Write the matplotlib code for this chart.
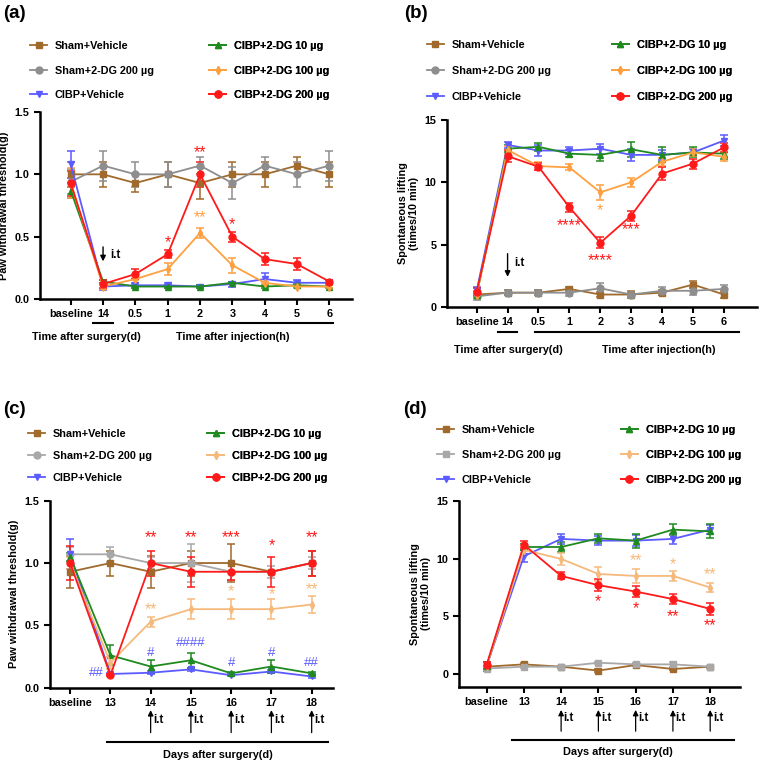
import matplotlib.pyplot as plt
import numpy as np

plt.rcParams['font.family'] = ['Liberation Sans', 'DejaVu Sans']
plt.rcParams['font.weight'] = 'bold'
plt.rcParams['axes.labelweight'] = 'bold'

W, H = 760, 764

groups = ['Sham+Vehicle', 'Sham+2-DG 200 µg', 'CIBP+Vehicle',
          'CIBP+2-DG 10 µg', 'CIBP+2-DG 100 µg', 'CIBP+2-DG 200 µg']

# ---- panel (a): paw withdrawal threshold, single injection
a_ticks = ['baseline', '14', '0.5', '1', '2', '3', '4', '5', '6']
a_sham_veh = [1.0, 1.0, 0.93, 1.0, 0.93, 1.0, 1.0, 1.07, 1.0]
a_sham_veh_e = [0.1, 0.1, 0.07, 0.1, 0.13, 0.1, 0.1, 0.07, 0.1]
a_sham_dg = [0.94, 1.07, 1.0, 1.0, 1.07, 0.93, 1.07, 1.0, 1.07]
a_sham_dg_e = [0.1, 0.12, 0.1, 0.1, 0.07, 0.13, 0.07, 0.1, 0.12]
a_cibp_veh = [1.08, 0.10, 0.11, 0.11, 0.10, 0.12, 0.16, 0.13, 0.13]
a_cibp_veh_e = [0.11, 0.03, 0.02, 0.02, 0.01, 0.02, 0.05, 0.02, 0.02]
a_dg10 = [0.87, 0.14, 0.10, 0.10, 0.10, 0.13, 0.10, 0.11, 0.10]
a_dg10_e = [0.06, 0.01, 0.01, 0.01, 0.01, 0.01, 0.01, 0.01, 0.01]
a_dg100 = [0.93, 0.10, 0.16, 0.24, 0.53, 0.27, 0.13, 0.10, 0.10]
a_dg100_e = [0.12, 0.02, 0.01, 0.05, 0.04, 0.06, 0.01, 0.01, 0.01]
a_dg200 = [0.93, 0.12, 0.20, 0.36, 1.0, 0.50, 0.32, 0.28, 0.14]
a_dg200_e = [0.1, 0.03, 0.04, 0.03, 0.1, 0.04, 0.05, 0.05, 0.01]

# ---- panel (b): spontaneous lifting, single injection
b_ticks = a_ticks
b_sham_veh = [1.0, 1.15, 1.15, 1.45, 1.0, 1.0, 1.15, 1.8, 1.0]
b_sham_veh_e = [0.3, 0.2, 0.2, 0.15, 0.2, 0.25, 0.2, 0.25, 0.25]
b_sham_dg = [0.85, 1.15, 1.15, 1.15, 1.5, 1.0, 1.3, 1.3, 1.45]
b_sham_dg_e = [0.3, 0.2, 0.2, 0.3, 0.4, 0.2, 0.3, 0.3, 0.35]
b_cibp_veh = [1.3, 13.0, 12.55, 12.55, 12.7, 12.2, 12.2, 12.4, 13.35]
b_cibp_veh_e = [0.3, 0.25, 0.45, 0.3, 0.4, 0.45, 0.4, 0.3, 0.45]
b_dg10 = [1.0, 12.7, 12.85, 12.3, 12.2, 12.65, 12.2, 12.4, 12.3]
b_dg10_e = [0.3, 0.3, 0.3, 0.3, 0.45, 0.6, 0.6, 0.4, 0.4]
b_dg100 = [1.0, 12.6, 11.3, 11.2, 9.2, 10.0, 11.65, 12.4, 12.05]
b_dg100_e = [0.3, 0.3, 0.35, 0.25, 0.6, 0.35, 0.3, 0.3, 0.3]
b_dg200 = [1.2, 12.1, 11.25, 8.0, 5.15, 7.33, 10.7, 11.5, 12.8]
b_dg200_e = [0.3, 0.5, 0.3, 0.35, 0.45, 0.4, 0.5, 0.4, 0.35]

# ---- panel (c): paw withdrawal threshold, repeated injection
c_ticks = ['baseline', '13', '14', '15', '16', '17', '18']
c_sham_veh = [0.93, 1.0, 0.93, 1.0, 1.0, 0.93, 1.0]
c_sham_veh_e = [0.13, 0.1, 0.13, 0.1, 0.15, 0.01, 0.1]
c_sham_dg = [1.07, 1.07, 1.0, 1.0, 0.93, 0.93, 1.0]
c_sham_dg_e = [0.06, 0.06, 0.05, 0.15, 0.07, 0.05, 0.05]
c_cibp_veh = [1.07, 0.11, 0.12, 0.147, 0.10, 0.13, 0.09]
c_cibp_veh_e = [0.12, 0.01, 0.01, 0.01, 0.01, 0.01, 0.01]
c_dg10 = [1.05, 0.26, 0.17, 0.22, 0.115, 0.17, 0.115]
c_dg10_e = [0.03, 0.08, 0.05, 0.06, 0.01, 0.05, 0.01]
c_dg100 = [1.0, 0.2, 0.53, 0.63, 0.63, 0.63, 0.667]
c_dg100_e = [0.05, 0.05, 0.04, 0.08, 0.08, 0.08, 0.07]
c_dg200 = [1.0, 0.10, 1.0, 0.93, 0.93, 0.93, 1.0]
c_dg200_e = [0.14, 0.01, 0.1, 0.12, 0.07, 0.12, 0.1]

# ---- panel (d): spontaneous lifting, repeated injection
d_ticks = c_ticks
d_sham_veh = [0.66, 0.86, 0.66, 0.32, 0.8, 0.46, 0.66]
d_sham_veh_e = [0.1, 0.1, 0.1, 0.1, 0.1, 0.1, 0.1]
d_sham_dg = [0.5, 0.66, 0.66, 1.0, 0.86, 0.86, 0.66]
d_sham_dg_e = [0.1, 0.15, 0.1, 0.1, 0.15, 0.2, 0.1]
d_cibp_veh = [0.7, 10.2, 11.7, 11.55, 11.55, 11.7, 12.5]
d_cibp_veh_e = [0.3, 0.5, 0.45, 0.4, 0.5, 0.4, 0.4]
d_dg10 = [0.7, 11.0, 11.0, 11.75, 11.55, 12.5, 12.35]
d_dg10_e = [0.4, 0.3, 0.4, 0.4, 0.6, 0.45, 0.6]
d_dg100 = [0.7, 10.75, 9.97, 8.67, 8.5, 8.5, 7.5]
d_dg100_e = [0.3, 0.4, 0.5, 0.6, 0.6, 0.4, 0.4]
d_dg200 = [0.8, 11.2, 8.5, 7.7, 7.15, 6.5, 5.65]
d_dg200_e = [0.3, 0.3, 0.3, 0.5, 0.45, 0.4, 0.5]

BROWN = '#A06A2C'
GRAY = '#8E8E8E'
BLUE = '#5B5BFF'
GREEN = '#1F8A1F'
ORANGE = '#FFA040'
LORANGE = '#F6B97C'
RED = '#FF1A1A'

FS = 7.8


def px_axes(left, top, right, bottom):
    return fig.add_axes([left / W, 1 - bottom / H, (right - left) / W, (bottom - top) / H])


def draw_panel(ax, ticks, means, errs, colors, markers, xlim, ylim, yticks, ylabel):
    x = np.arange(len(ticks))
    handles = []
    for m, e, c, mk, lab in zip(means, errs, colors, markers, groups):
        ms = 4.0 if mk == 'd' else 5.0
        h = ax.errorbar(x, m, yerr=e, color=c, marker=mk, ms=ms, lw=1.3,
                        elinewidth=1.1, capsize=3, capthick=1.1, label=lab,
                        clip_on=False)
        handles.append(h.lines[0])
    ax.set_xlim(*xlim)
    ax.set_ylim(*ylim)
    ax.set_xticks(x)
    ax.set_xticklabels(ticks, fontsize=FS, fontweight='bold')
    ax.set_yticks(yticks)
    ax.tick_params(axis='both', length=4, width=1.5, labelsize=FS)
    for lb in ax.get_yticklabels():
        lb.set_fontweight('bold')
    for s in ['top', 'right']:
        ax.spines[s].set_visible(False)
    for s in ['left', 'bottom']:
        ax.spines[s].set_linewidth(1.8)
    ax.set_ylabel(ylabel, fontsize=FS, fontweight='bold', linespacing=1.1)
    return handles


def add_legend(ax, handles, x1, x2, y, pitch):
    lab_sp = (pitch - 9.5) / (FS * 100 / 72)
    for hs, labs, xx in ((handles[:3], groups[:3], x1), (handles[3:], groups[3:], x2)):
        lg = ax.legend(handles=hs, labels=labs, loc='upper left', frameon=False,
                       bbox_to_anchor=(xx / W, 1 - (y - 4.75) / H),
                       bbox_transform=fig.transFigure, borderpad=0,
                       borderaxespad=0, handlelength=1.6, handletextpad=0.7,
                       labelspacing=lab_sp, prop={'size': FS, 'weight': 'bold'})
        ax.add_artist(lg)


def add_marks(ax, marks):
    for txt, xi, yv, c in marks:
        fs = 9.5 if '#' in txt else 11.5
        ax.text(xi, yv, txt, color=c, ha='center', va='center', fontsize=fs,
                fontweight='normal')


fig = plt.figure(figsize=(W / 100, H / 100), dpi=100)

# (a)
ax_a = px_axes(40, 112, 352, 299)
hs = draw_panel(ax_a, a_ticks,
                [a_sham_veh, a_sham_dg, a_cibp_veh, a_dg10, a_dg100, a_dg200],
                [a_sham_veh_e, a_sham_dg_e, a_cibp_veh_e, a_dg10_e, a_dg100_e, a_dg200_e],
                [BROWN, GRAY, BLUE, GREEN, ORANGE, RED], ['s', 'o', 'v', '^', 'd', 'o'],
                (-0.95, 8.7), (0, 1.5), [0, 0.5, 1.0, 1.5], 'Paw withdrawal threshold(g)')
ax_a.set_yticklabels(['0.0', '0.5', '1.0', '1.5'])
add_legend(ax_a, hs, 30, 209, 46, 24)
add_marks(ax_a, [('**', 4, 1.17, RED), ('*', 3, 0.45, RED),
                 ('**', 4, 0.65, ORANGE), ('*', 5, 0.60, RED)])
ax_a.annotate('', xy=(1, 0.28), xytext=(1, 0.44),
              arrowprops=dict(arrowstyle='-|>', color='black', lw=1, mutation_scale=8))
ax_a.text(1.22, 0.35, 'i.t', fontsize=FS + 0.5, fontweight='bold', va='center')
tr = ax_a.get_xaxis_transform()
ax_a.plot([0.69, 1.31], [-0.128, -0.128], color='black', lw=1.5, transform=tr, clip_on=False)
ax_a.plot([1.8, 8.12], [-0.128, -0.128], color='black', lw=1.5, transform=tr, clip_on=False)
ax_a.text(0.47, -0.203, 'Time after surgery(d)', transform=tr, ha='center', va='center', fontsize=FS)
ax_a.text(5.0, -0.203, 'Time after injection(h)', transform=tr, ha='center', va='center', fontsize=FS)

# (b)
ax_b = px_axes(446.7, 120, 757, 307)
hs = draw_panel(ax_b, b_ticks,
                [b_sham_veh, b_sham_dg, b_cibp_veh, b_dg10, b_dg100, b_dg200],
                [b_sham_veh_e, b_sham_dg_e, b_cibp_veh_e, b_dg10_e, b_dg100_e, b_dg200_e],
                [BROWN, GRAY, BLUE, GREEN, ORANGE, RED], ['s', 'o', 'v', '^', 'd', 'o'],
                (-0.97, 9.07), (0, 15), [0, 5, 10, 15], 'Spontaneous lifting\n(times/10 min)')
add_legend(ax_b, hs, 426.7, 611.7, 45, 25.5)
add_marks(ax_b, [('*', 4, 7.7, ORANGE), ('****', 3, 6.5, RED),
                 ('****', 4, 3.7, RED), ('***', 5, 6.2, RED)])
ax_b.annotate('', xy=(1, 2.2), xytext=(1, 4.5),
              arrowprops=dict(arrowstyle='-|>', color='black', lw=1, mutation_scale=8))
ax_b.text(1.22, 3.5, 'i.t', fontsize=FS + 0.5, fontweight='bold', va='center')
tr = ax_b.get_xaxis_transform()
ax_b.plot([0.69, 1.31], [-0.132, -0.132], color='black', lw=1.5, transform=tr, clip_on=False)
ax_b.plot([1.89, 8.49], [-0.132, -0.132], color='black', lw=1.5, transform=tr, clip_on=False)
ax_b.text(1.01, -0.23, 'Time after surgery(d)', transform=tr, ha='center', va='center', fontsize=FS)
ax_b.text(5.9, -0.23, 'Time after injection(h)', transform=tr, ha='center', va='center', fontsize=FS)

# (c)
ax_c = px_axes(50, 500.7, 333, 687.7)
hs = draw_panel(ax_c, c_ticks,
                [c_sham_veh, c_sham_dg, c_cibp_veh, c_dg10, c_dg100, c_dg200],
                [c_sham_veh_e, c_sham_dg_e, c_cibp_veh_e, c_dg10_e, c_dg100_e, c_dg200_e],
                [BROWN, '#A8A8A8', BLUE, GREEN, LORANGE, RED], ['s', 'o', 'v', '^', 'd', 'o'],
                (-0.5, 6.53), (0, 1.5), [0, 0.5, 1.0, 1.5], 'Paw withdrawal threshold(g)')
ax_c.set_yticklabels(['0.0', '0.5', '1.0', '1.5'])
add_legend(ax_c, hs, 28, 207, 434, 21.5)
add_marks(ax_c, [('**', 2, 1.20, RED), ('**', 3, 1.20, RED), ('***', 4, 1.20, RED),
                 ('*', 5, 1.14, RED), ('**', 6, 1.20, RED),
                 ('**', 2, 0.63, LORANGE), ('*', 4, 0.77, LORANGE),
                 ('*', 5, 0.745, LORANGE), ('**', 6, 0.79, LORANGE),
                 ('##', 0.65, 0.115, BLUE), ('#', 2, 0.28, BLUE), ('####', 3, 0.355, BLUE),
                 ('#', 4, 0.2, BLUE), ('#', 5, 0.28, BLUE), ('##', 6, 0.2, BLUE)])
tr = ax_c.get_xaxis_transform()
for xi in range(2, 7):
    ax_c.annotate('', xy=(xi, -0.105), xytext=(xi, -0.255), xycoords=tr, textcoords=tr,
                  arrowprops=dict(arrowstyle='-|>', color='black', lw=0.9, mutation_scale=8))
    ax_c.text(xi + 0.07, -0.173, 'i.t', transform=tr, fontsize=FS + 0.5, va='center')
ax_c.plot([0.91, 6.4], [-0.289, -0.289], color='black', lw=1.5, transform=tr, clip_on=False)
ax_c.text(3.67, -0.36, 'Days after surgery(d)', transform=tr, ha='center', va='center', fontsize=FS)

# (d)
ax_d = px_axes(459, 500.7, 740, 686.7)
hs = draw_panel(ax_d, d_ticks,
                [d_sham_veh, d_sham_dg, d_cibp_veh, d_dg10, d_dg100, d_dg200],
                [d_sham_veh_e, d_sham_dg_e, d_cibp_veh_e, d_dg10_e, d_dg100_e, d_dg200_e],
                [BROWN, '#A8A8A8', BLUE, GREEN, LORANGE, RED], ['s', 's', 'v', '^', 'd', 'o'],
                (-0.74, 6.8), (-1.07, 15), [0, 5, 10, 15], 'Spontaneous lifting\n(times/10 min)')
add_legend(ax_d, hs, 437, 620.7, 430, 24.5)
add_marks(ax_d, [('**', 4, 9.8, LORANGE), ('*', 5, 9.5, LORANGE), ('**', 6, 8.6, LORANGE),
                 ('*', 3, 6.3, RED), ('*', 4, 5.7, RED), ('**', 5, 5.0, RED), ('**', 6, 4.2, RED)])
tr = ax_d.get_xaxis_transform()
for xi in range(2, 7):
    ax_d.annotate('', xy=(xi, -0.11), xytext=(xi, -0.254), xycoords=tr, textcoords=tr,
                  arrowprops=dict(arrowstyle='-|>', color='black', lw=0.9, mutation_scale=8))
    ax_d.text(xi + 0.07, -0.168, 'i.t', transform=tr, fontsize=FS + 0.5, va='center')
ax_d.plot([0.67, 6.63], [-0.287, -0.287], color='black', lw=1.5, transform=tr, clip_on=False)
ax_d.text(3.53, -0.35, 'Days after surgery(d)', transform=tr, ha='center', va='center', fontsize=FS)

# panel letters
for lbl, px, py in [('(a)', 3, 14), ('(b)', 404, 14), ('(c)', 3, 410), ('(d)', 403, 410)]:
    fig.text(px / W, 1 - py / H, lbl, fontsize=13.5, fontweight='bold', va='center', ha='left')

fig.savefig('out.png', dpi=100)
